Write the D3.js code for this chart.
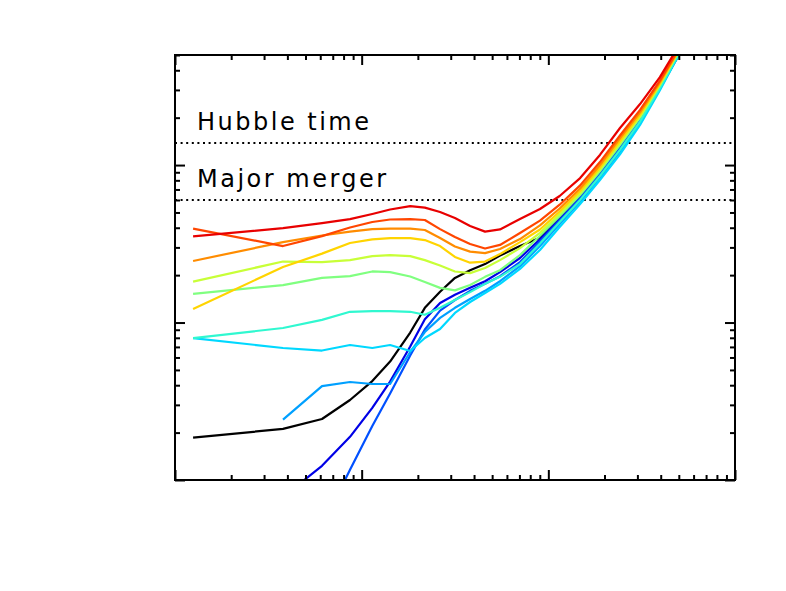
<!DOCTYPE html>
<html>
<head>
<meta charset="utf-8">
<script src="https://cdnjs.cloudflare.com/ajax/libs/d3/7.8.5/d3.min.js"></script>
<style>
  body { margin: 0; background: #fff; }
  .label { font-family: "DejaVu Sans", sans-serif; font-size: 24px; letter-spacing: 2.5px; }
</style>
</head>
<body>
<div id="chart"></div>
<script>
// radius grid (same for every run)
var radius = [0.125, 0.379, 0.613, 0.866, 1.14, 1.42, 1.82, 2.18, 2.63, 3.16, 3.81, 4.58,
              5.51, 7.05, 9.02, 11.5, 14.8, 18.9, 24.2, 31.0, 39.6, 47.7, 57.4];

// timescales in Gyr, one array per run (null = no value)
var tBlack  = [0.186, 0.211, 0.244, 0.322, 0.425, 0.565, 0.864, 1.24, 1.57, 1.92, 2.15, 2.35, 2.66, 3.06, 3.45, 4.63, 6.34, 8.96, 13.2, 19.7, 30.8, 45.4, 65.0];
var tBlue1  = [null, 0.078, 0.123, 0.188, 0.287, 0.422, 0.704, 1.05, 1.33, 1.50, 1.66, 1.83, 2.09, 2.57, 3.38, 4.55, 6.25, 8.83, 13.0, 19.5, 31.5, 46.8, 68.0];
var tBlue2  = [null, null, 0.051, 0.116, 0.220, 0.354, 0.617, 0.903, 1.19, 1.39, 1.59, 1.76, 1.97, 2.42, 3.27, 4.44, 6.13, 8.67, 12.7, 19.1, 31.1, 46.5, 67.6];
var tSky    = [null, 0.242, 0.395, 0.419, 0.407, 0.407, 0.650, 0.870, 1.07, 1.24, 1.41, 1.59, 1.83, 2.28, 3.06, 4.23, 5.87, 8.33, 12.2, 18.5, 30.5, 45.7, 66.7];
var tCyan   = [0.797, 0.689, 0.664, 0.720, 0.689, 0.720, 0.659, 0.797, 0.909, 1.15, 1.35, 1.54, 1.76, 2.19, 2.89, 4.04, 5.65, 8.03, 11.7, 18.0, 29.9, 45.1, 65.9];
var tAqua   = [0.797, 0.923, 1.04, 1.17, 1.18, 1.18, 1.17, 1.12, 1.24, 1.39, 1.56, 1.76, 1.95, 2.35, 3.18, 4.35, 6.01, 8.52, 12.5, 18.9, 30.9, 46.1, 67.2];
var tGreen  = [1.52, 1.73, 1.92, 1.97, 2.11, 2.09, 1.96, 1.81, 1.66, 1.60, 1.73, 1.95, 2.15, 2.68, 3.56, 4.73, 6.46, 9.12, 13.4, 20.0, 32.0, 47.5, 68.7];
var tLime   = [1.82, 2.44, 2.42, 2.49, 2.64, 2.68, 2.64, 2.49, 2.30, 2.11, 2.06, 2.22, 2.49, 2.97, 3.71, 4.89, 6.63, 9.36, 13.8, 20.4, 32.4, 47.9, 69.3];
var tYellow = [1.22, 2.25, 2.74, 3.20, 3.37, 3.44, 3.44, 3.34, 3.06, 2.61, 2.40, 2.44, 2.72, 3.24, 3.90, 5.07, 6.84, 9.64, 14.2, 20.9, 32.9, 48.5, 69.9];
var tOrange = [2.46, 3.24, 3.57, 3.78, 3.92, 3.95, 3.95, 3.87, 3.44, 3.04, 2.82, 2.76, 2.93, 3.39, 4.14, 5.30, 7.10, 10.0, 14.8, 21.6, 33.6, 49.2, 70.7];
var tRedOr  = [3.95, 3.06, 3.54, 4.01, 4.35, 4.51, 4.54, 4.48, 3.92, 3.49, 3.15, 2.95, 3.11, 3.70, 4.44, 5.60, 7.43, 10.45, 15.4, 22.4, 34.4, 50.1, 71.8];
var tRed    = [3.52, 3.98, 4.28, 4.54, 4.89, 5.22, 5.49, 5.37, 5.03, 4.61, 4.10, 3.78, 3.90, 4.54, 5.26, 6.36, 8.27, 11.6, 17.2, 24.4, 36.2, 52.2, 74.1];

var runs = [tBlack, tBlue1, tBlue2, tSky, tCyan, tAqua, tGreen, tLime, tYellow, tOrange, tRedOr, tRed];
var runColors = ["#000000", "#0000e6", "#0050ff", "#00a0ff", "#00d8ff", "#30f8d0",
                 "#80ff80", "#c8ff38", "#ffd400", "#ff8c00", "#ff4600", "#e80000"];

// reference timescales (Gyr)
var refLines = [{ label: "Hubble time", value: 13.8 }, { label: "Major merger", value: 6.0 }];

var svgWidth = 786, svgHeight = 591;
var margin = { top: 55, right: 51, bottom: 111, left: 175 };
var width = svgWidth - margin.left - margin.right;
var height = svgHeight - margin.top - margin.bottom;

var svg = d3.select("#chart").append("svg")
  .attr("width", svgWidth)
  .attr("height", svgHeight)
  .style("background", "#fff");

var chartGroup = svg.append("g")
  .attr("transform", `translate(${margin.left}, ${margin.top})`);

var xScale = d3.scaleLog().domain([0.1, 100]).range([0, width]);
var yScale = d3.scaleLog().domain([0.1, 50]).range([height, 0]);

chartGroup.append("clipPath").attr("id", "plotclip")
  .append("rect").attr("width", width).attr("height", height);

// reference lines + labels
refLines.forEach(function(r) {
  chartGroup.append("line")
    .attr("x1", 0).attr("x2", width)
    .attr("y1", yScale(r.value)).attr("y2", yScale(r.value))
    .attr("stroke", "#000")
    .attr("stroke-width", 2)
    .attr("stroke-dasharray", "2,3.6");
  chartGroup.append("text")
    .attr("class", "label")
    .attr("x", 22)
    .attr("y", yScale(r.value) - 13)
    .text(r.label);
});

// curves
var line = d3.line()
  .defined(d => d[1] != null)
  .x(d => xScale(d[0]))
  .y(d => yScale(d[1]));

var curves = chartGroup.append("g").attr("clip-path", "url(#plotclip)");
runs.forEach(function(vals, i) {
  var pts = radius.map((r, j) => [r, vals[j]]);
  curves.append("path")
    .datum(pts)
    .attr("d", line)
    .attr("fill", "none")
    .attr("stroke", runColors[i])
    .attr("stroke-width", 2.2)
    .attr("stroke-linejoin", "round");
});

// ticks on all four sides, pointing inward
function isMajor(v) { return Math.abs(Math.log10(v) - Math.round(Math.log10(v))) < 1e-6; }
var xTicks = xScale.ticks();
var yTicks = yScale.ticks();

function addTicks(axisFn, scale, vals, len, transform) {
  var g = chartGroup.append("g")
    .attr("transform", transform)
    .call(axisFn(scale).tickValues(vals).tickSize(-len).tickFormat(""));
  g.select(".domain").remove();
  g.selectAll("line").attr("stroke", "#000").attr("stroke-width", 2);
}

addTicks(d3.axisBottom, xScale, xTicks.filter(v => !isMajor(v)), 5, `translate(0, ${height})`);
addTicks(d3.axisBottom, xScale, xTicks.filter(isMajor), 10, `translate(0, ${height})`);
addTicks(d3.axisTop, xScale, xTicks.filter(v => !isMajor(v)), 5, "translate(0, 0)");
addTicks(d3.axisTop, xScale, xTicks.filter(isMajor), 10, "translate(0, 0)");
addTicks(d3.axisLeft, yScale, yTicks.filter(v => !isMajor(v)), 5, "translate(0, 0)");
addTicks(d3.axisLeft, yScale, yTicks.filter(isMajor), 10, "translate(0, 0)");
addTicks(d3.axisRight, yScale, yTicks.filter(v => !isMajor(v)), 5, `translate(${width}, 0)`);
addTicks(d3.axisRight, yScale, yTicks.filter(isMajor), 10, `translate(${width}, 0)`);

// frame
chartGroup.append("rect")
  .attr("width", width)
  .attr("height", height)
  .attr("fill", "none")
  .attr("stroke", "#000")
  .attr("stroke-width", 2);
</script>
</body>
</html>
